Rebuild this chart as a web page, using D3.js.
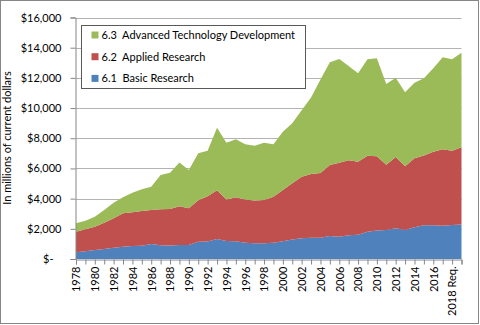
<!DOCTYPE html>
<html>
<head>
<meta charset="utf-8">
<script src="https://cdn.jsdelivr.net/npm/d3@7"></script>
<style>
  body { margin: 0; background: #fff; }
  text { font-family: Lato, "Liberation Sans", sans-serif; fill: #000; }
</style>
</head>
<body>
<div id="chart"></div>
<script>
// categories (last one is unlabeled on the axis)
const categories = ["1978", "1979", "1980", "1981", "1982", "1983", "1984", "1985", "1986", "1987",
  "1988", "1989", "1990", "1991", "1992", "1993", "1994", "1995", "1996", "1997",
  "1998", "1999", "2000", "2001", "2002", "2003", "2004", "2005", "2006", "2007",
  "2008", "2009", "2010", "2011", "2012", "2013", "2014", "2015", "2016", "2017",
  "2018 Req.", ""];

// millions of current dollars
const basicResearch = [440, 520, 600, 670, 750, 810, 860, 880, 990, 905,
  900, 930, 920, 1150, 1160, 1320, 1190, 1170, 1080, 1040,
  1040, 1080, 1170, 1300, 1370, 1410, 1400, 1520, 1480, 1570,
  1610, 1810, 1880, 1920, 2030, 1920, 2100, 2230, 2230, 2210,
  2250, 2280];
const appliedResearch = [1370, 1445, 1540, 1735, 1945, 2215, 2230, 2300, 2255, 2385,
  2410, 2560, 2440, 2740, 2990, 3230, 2760, 2920, 2870, 2830,
  2870, 3050, 3400, 3720, 4080, 4220, 4300, 4710, 4900, 4980,
  4840, 5030, 4920, 4330, 4720, 4230, 4570, 4620, 4880, 5060,
  4930, 5120];
const advancedDev = [560, 575, 660, 840, 1035, 1060, 1305, 1435, 1545, 2275,
  2410, 2900, 2540, 3110, 3030, 4150, 3750, 3840, 3650, 3640,
  3800, 3470, 3860, 3970, 4400, 5070, 6200, 6800, 6870, 6240,
  5850, 6390, 6500, 5350, 5260, 4890, 5010, 5120, 5520, 6090,
  6050, 6270];

const yTicks = [0, 2000, 4000, 6000, 8000, 10000, 12000, 14000, 16000];

const seriesKeys = ["basic", "applied", "advanced"];
const seriesNames = {
  basic: "6.1  Basic Research",
  applied: "6.2  Applied Research",
  advanced: "6.3  Advanced Technology Development"
};
const colors = { basic: "#4F81BD", applied: "#C0504D", advanced: "#9BBB59" };

const table = categories.map((c, i) => ({
  idx: i,
  basic: basicResearch[i],
  applied: appliedResearch[i],
  advanced: advancedDev[i]
}));

const svgWidth = 480, svgHeight = 325;
const margin = { top: 17.5, right: 18.5, bottom: 66, left: 76 };

const svg = d3.select("#chart").append("svg").
  attr("width", svgWidth).
  attr("height", svgHeight);

// outer chart border
svg.append("rect").
  attr("x", 0.5).attr("y", 0.5).
  attr("width", svgWidth - 2).attr("height", svgHeight - 2).
  attr("fill", "#fff").
  attr("stroke", "#868686");

const x = d3.scalePoint().
  domain(d3.range(categories.length)).
  range([margin.left, svgWidth - margin.right]).
  padding(0);

const y = d3.scaleLinear().
  domain([0, 16000]).
  range([svgHeight - margin.bottom, margin.top]);

// gridlines
svg.append("g").
  selectAll("line").
  data(yTicks.filter(d => d > 0)).
  join("line").
  attr("x1", margin.left).
  attr("x2", svgWidth - margin.right).
  attr("y1", d => Math.round(y(d)) + 0.5).
  attr("y2", d => Math.round(y(d)) + 0.5).
  attr("stroke", "#b3b3b3");

// stacked areas
const stacked = d3.stack().keys(seriesKeys)(table);
const area = d3.area().
  x(d => x(d.data.idx)).
  y0(d => y(d[0])).
  y1(d => y(d[1]));

svg.append("g").
  selectAll("path").
  data(stacked).
  join("path").
  attr("fill", d => colors[d.key]).
  attr("d", area);

// y axis
const yAxis = svg.append("g").
  attr("transform", `translate(${margin.left - 0.5},0)`).
  call(d3.axisLeft(y).tickValues(yTicks).tickSize(5).tickPadding(10).
    tickFormat(d => d === 0 ? "$-" : "$" + d3.format(",")(d)));
yAxis.select(".domain").attr("stroke", "#868686");
yAxis.selectAll(".tick line").attr("stroke", "#868686");
yAxis.selectAll(".tick text").
  style("font-size", "11px").
  attr("x", d => d === 0 ? -22 : -14);

// x axis
const xAxis = svg.append("g").
  attr("transform", `translate(0,${svgHeight - margin.bottom + 0.5})`).
  call(d3.axisBottom(x).tickSize(5).
    tickFormat(i => i % 2 === 0 ? categories[i] : ""));
xAxis.select(".domain").attr("stroke", "#868686");
xAxis.selectAll(".tick line").attr("stroke", "#868686");
xAxis.selectAll(".tick text").
  style("font-size", "11px").
  attr("transform", "rotate(-90)").
  attr("text-anchor", "end").
  attr("x", -7).
  attr("y", 0).
  attr("dy", "0.35em");

// y axis title
svg.append("text").
  attr("transform", `translate(11,${138}) rotate(-90)`).
  attr("text-anchor", "middle").
  style("font-size", "11px").
  text("In millions of current dollars");

// legend
const legend = svg.append("g").attr("transform", "translate(81.5,25.5)");
legend.append("rect").
  attr("width", 224).
  attr("height", 63).
  attr("fill", "#fff").
  attr("stroke", "#595959");

const legendItems = legend.selectAll("g").
  data(seriesKeys.slice().reverse()).
  join("g").
  attr("transform", (d, i) => `translate(10,${9.5 + i * 21.7})`);

legendItems.append("rect").
  attr("width", 7).
  attr("height", 7).
  attr("y", -3.5).
  attr("fill", d => colors[d]);

legendItems.append("text").
  attr("x", 10).
  attr("dy", "0.35em").
  style("font-size", "11px").
  style("white-space", "pre").
  attr("xml:space", "preserve").
  text(d => seriesNames[d]);
</script>
</body>
</html>
